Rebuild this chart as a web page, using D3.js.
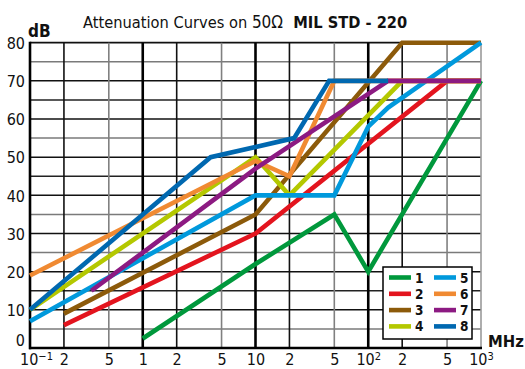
<!DOCTYPE html>
<html>
<head>
<meta charset="utf-8">
<script src="https://cdn.jsdelivr.net/npm/d3@7"></script>
<style>
  html, body { margin: 0; padding: 0; background: #fff; }
  svg { display: block; }
  text { font-family: "DejaVu Sans Condensed", "DejaVu Sans", sans-serif; font-stretch: condensed; fill: #111; }
</style>
</head>
<body>
<svg id="chart" width="525" height="369"></svg>
<script>
// ---- data ----
const seriesNames = ["1", "2", "3", "4", "5", "6", "7", "8"];
const seriesColors = ["#00983c", "#e3141e", "#8c5a0a", "#b4c800", "#0099dc", "#f08a32", "#8c1a82", "#0068b0"];
const freq1 = [1, 10, 50, 100, 1000];            const db1 = [2.5, 22, 35, 20, 70];
const freq2 = [0.2, 10, 500, 1000];              const db2 = [6, 30, 70, 70];
const freq3 = [0.2, 10, 200, 1000];              const db3 = [9, 35, 80, 80];
const freq4 = [0.1, 10, 20, 200, 1000];          const db4 = [10, 50, 40, 70, 70];
const freq5 = [0.1, 10, 50, 100, 150, 1000];     const db5 = [7, 40, 40, 58, 63, 80];
const freq6 = [0.1, 10, 20, 50, 1000];           const db6 = [19, 49, 45, 70, 70];
const freq7 = [0.35, 1, 10, 150, 1000];          const db7 = [15, 25, 47, 70, 70];
const freq8 = [0.1, 4, 22, 45, 150];             const db8 = [10, 50, 55, 70, 70];
const xTicks = [0.1, 0.2, 0.5, 1, 2, 5, 10, 20, 50, 100, 200, 500, 1000];
const xTickLabels = ["10^−1", "2", "5", "1", "2", "5", "10", "2", "5", "10^2", "2", "5", "10^3"];
const yTicks = [0, 10, 20, 30, 40, 50, 60, 70, 80];
const yMinorTicks = [5, 15, 25, 35, 45, 55, 65, 75];
const titleParts = ["Attenuation Curves on ", "50Ω", "  MIL STD - 220"];
const yUnit = "dB";
const xUnit = "MHz";

const freqs = [freq1, freq2, freq3, freq4, freq5, freq6, freq7, freq8];
const dbs = [db1, db2, db3, db4, db5, db6, db7, db8];
const series = seriesNames.map((n, i) => ({
  name: n, color: seriesColors[i],
  pts: freqs[i].map((f, j) => ({ f, v: dbs[i][j] }))
}));

// ---- layout ----
const svg = d3.select("#chart");
const L = 30, R = 481, T = 42.7, B = 348;
const x = d3.scaleLog().domain([0.1, 1000]).range([L, R]);
const y = d3.scaleLinear().domain([0, 80]).range([B, T]);

// grid
const grid = svg.append("g");
grid.selectAll("line.hminor").data(yMinorTicks).join("line")
  .attr("x1", L).attr("x2", R).attr("y1", d => y(d)).attr("y2", d => y(d))
  .attr("stroke", d => [75, 55, 35, 25, 5].includes(d) ? "#7a7a7a" : "#222").attr("stroke-width", 1.5);
grid.selectAll("line.hmajor").data(yTicks.filter(d => d > 0)).join("line")
  .attr("x1", L).attr("x2", R).attr("y1", d => y(d)).attr("y2", d => y(d))
  .attr("stroke", "#111").attr("stroke-width", d => d === 80 ? 1.8 : 1.5);
grid.selectAll("line.v").data(xTicks.filter(d => d > 0.1)).join("line")
  .attr("y1", T).attr("y2", B).attr("x1", d => x(d)).attr("x2", d => x(d))
  .attr("stroke", d => {
    const m = Math.round(d / Math.pow(10, Math.floor(Math.log10(d) + 1e-9)));
    if (d === 1000) return "#9a9a9a";
    return m === 1 ? "#000" : (m === 2 ? "#111" : "#808080");
  })
  .attr("stroke-width", d => {
    const m = Math.round(d / Math.pow(10, Math.floor(Math.log10(d) + 1e-9)));
    return (m === 1 && d !== 1000) ? 2.6 : 1.6;
  });

// axes
const xAxis = d3.axisBottom(x).tickValues(xTicks).tickSize(0).tickPadding(0)
  .tickFormat((d, i) => xTickLabels[i]);
const gx = svg.append("g").attr("transform", `translate(0,${B})`).call(xAxis);
gx.select(".domain").remove();
gx.selectAll("text").each(function (d, i) {
  const lab = xTickLabels[i];
  const t = d3.select(this).text(null)
    .attr("y", 17).attr("dy", null)
    .style("font-size", "16px").attr("fill", "#111")
    .attr("text-anchor", "middle");
  if (lab.includes("^")) {
    const [base, sup] = lab.split("^");
    t.append("tspan").text(base);
    t.append("tspan").text(sup).attr("dy", -5).style("font-size", "11px");
    if (i === 0) t.attr("x", 6);
  } else {
    t.text(lab);
  }
});

const yAxis = d3.axisLeft(y).tickValues(yTicks).tickSize(0).tickPadding(5);
const gy = svg.append("g").attr("transform", `translate(${L},0)`).call(yAxis);
gy.select(".domain").remove();
gy.selectAll("text").style("font-size", "16px").attr("fill", "#111")
  .attr("dy", d => d === 0 ? "-0.15em" : "0.36em");

// frame
svg.append("line").attr("x1", L).attr("x2", L).attr("y1", T - 1).attr("y2", B + 1.3)
  .attr("stroke", "#000").attr("stroke-width", 2.6);
svg.append("line").attr("x1", L - 1).attr("x2", R + 1).attr("y1", B).attr("y2", B)
  .attr("stroke", "#000").attr("stroke-width", 2.6);

// curves
const line = d3.line().x(d => x(d.f)).y(d => y(d.v));
const plot = svg.append("g");
plot.selectAll("path").data(series).join("path")
  .attr("d", d => line(d.pts))
  .attr("fill", "none").attr("stroke", d => d.color)
  .attr("stroke-width", 4.6).attr("stroke-linejoin", "miter").attr("stroke-linecap", "butt");

// legend
const lg = svg.append("g");
lg.append("rect").attr("x", 383).attr("y", 267).attr("width", 89).attr("height", 72)
  .attr("fill", "#fff").attr("stroke", "#000").attr("stroke-width", 1.5);
series.forEach((s, i) => {
  const col = Math.floor(i / 4), row = i % 4;
  const lx = 389 + col * 45, ly = 277.5 + row * 16.3;
  lg.append("line").attr("x1", lx).attr("x2", lx + 22).attr("y1", ly).attr("y2", ly)
    .attr("stroke", s.color).attr("stroke-width", 4.6);
  lg.append("text").attr("x", lx + 26).attr("y", ly + 5)
    .style("font-size", "13.5px").style("font-weight", "bold").text(s.name);
});

// title and units
const title = svg.append("text").attr("x", 83).attr("y", 28).style("font-size", "16.3px")
  .attr("xml:space", "preserve");
title.append("tspan").text(titleParts[0]);
title.append("tspan").text(titleParts[1]).style("font-size", "17px");
title.append("tspan").text(titleParts[2]).style("font-weight", "bold");

svg.append("text").attr("x", 28).attr("y", 37).style("font-size", "17px").style("font-weight", "bold").text(yUnit);
svg.append("text").attr("x", 488).attr("y", 347).style("font-size", "16.5px").style("font-weight", "bold").text(xUnit);
</script>
</body>
</html>
